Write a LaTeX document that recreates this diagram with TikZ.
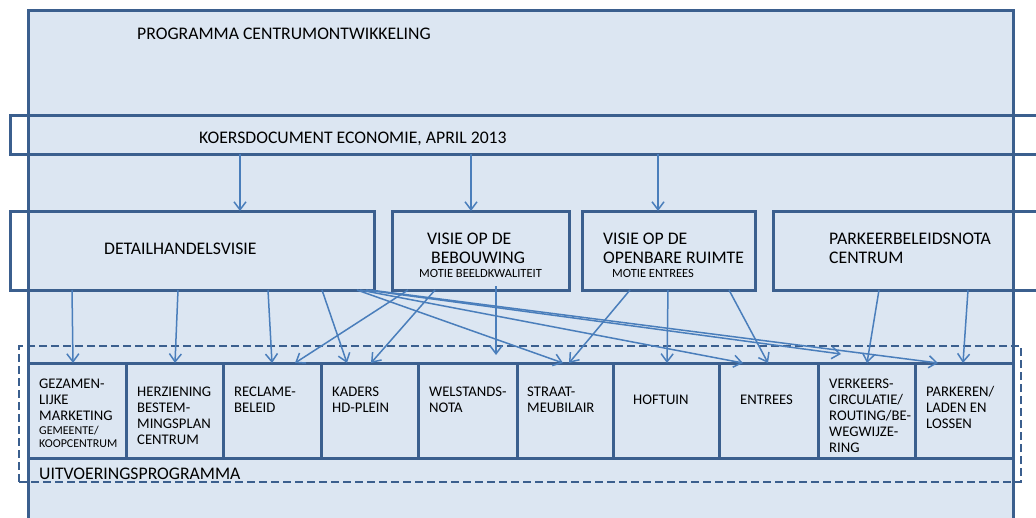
\documentclass[tikz,border=0pt]{standalone}
\usepackage{fontspec}
\setmainfont{Carlito}
\usetikzlibrary{arrows.meta,calc}
\definecolor{boxfill}{HTML}{DCE6F2}
\definecolor{boxline}{HTML}{3B5F8E}
\definecolor{arrline}{HTML}{4A7EBB}
\tikzset{
  frame/.style={draw=boxline, line width=3pt, inner sep=0pt, outer sep=0pt},
  box/.style={draw=boxline, line width=3pt, inner sep=0pt, outer sep=0pt},
  dbox/.style={draw=boxline, line width=2.8pt, dash pattern=on 8pt off 4pt, inner sep=0pt, outer sep=0pt},
  arr/.style={draw=arrline, line width=1.5pt, -{Straight Barb[length=8pt,width=12pt,line width=1.5pt]}},
  big/.style={inner sep=0pt, anchor=base west, font=\fontsize{17.7}{19.5}\selectfont},
  mid/.style={inner sep=0pt, anchor=base west, font=\fontsize{14.7}{16}\selectfont},
  tiny/.style={inner sep=0pt, anchor=base west, font=\fontsize{12.5}{13}\selectfont},
}
\newcommand{\lines}[1]{\begin{tabular}[t]{@{}l@{}}#1\end{tabular}}
\begin{document}
\begin{tikzpicture}[x=1pt,y=-1pt]
\useasboundingbox (0,0) rectangle (1036,517);
\clip (0,0) rectangle (1036,517);
% outer frame
\node[frame, fill=boxfill, minimum width=985pt, minimum height=530pt] (outer) at (520.5,275) {};
% koersdocument band
\node[box, minimum width=1040pt, minimum height=39pt] (koers) at (530,134.5) {};
% middle row
\node[box, minimum width=364pt, minimum height=79pt] (detail) at (192,250.5) {};
\node[box, minimum width=177pt, minimum height=79pt] (bebouw) at (480.5,250.5) {};
\node[box, minimum width=173pt, minimum height=79pt] (openb) at (668.5,250.5) {};
\node[box, minimum width=280pt, minimum height=79pt] (parkeer) at (913,250.5) {};
% uitvoeringsprogramma dashed
\node[dbox, minimum width=1002pt, minimum height=136pt] (uitv) at (520,414) {};
% bottom boxes
\node[box, minimum width=98pt, minimum height=95pt] (b1) at (77,410.5) {};
\node[box, minimum width=97pt, minimum height=95pt] (b2) at (174.5,410.5) {};
\node[box, minimum width=98pt, minimum height=95pt] (b3) at (272,410.5) {};
\node[box, minimum width=97pt, minimum height=95pt] (b4) at (369.5,410.5) {};
\node[box, minimum width=99pt, minimum height=95pt] (b5) at (467.5,410.5) {};
\node[box, minimum width=96pt, minimum height=95pt] (b6) at (565,410.5) {};
\node[box, minimum width=106pt, minimum height=95pt] (b7) at (666,410.5) {};
\node[box, minimum width=99pt, minimum height=95pt] (b8) at (768.5,410.5) {};
\node[box, minimum width=97pt, minimum height=95pt] (b9) at (866.5,410.5) {};
\node[box, minimum width=98pt, minimum height=95pt] (b10) at (964,410.5) {};
% texts
\node[big] (tprog) at (137,39.5) {PROGRAMMA CENTRUMONTWIKKELING};
\node[big] (tkoers) at (199,143.5) {KOERSDOCUMENT ECONOMIE, APRIL 2013};
\node[big] (tdetail) at (104,254) {DETAILHANDELSVISIE};
\node[big] (tbeb) at (427,244.3) {\lines{VISIE OP DE\\\hspace*{4pt}BEBOUWING}};
\node[tiny] (tbebm) at (419,277.7) {MOTIE BEELDKWALITEIT};
\node[big] (topen) at (603,244.3) {\lines{VISIE OP DE\\OPENBARE RUIMTE}};
\node[tiny] (topenm) at (612,277.7) {MOTIE ENTREES};
\node[big] (tpark) at (829,244.3) {\lines{PARKEERBELEIDSNOTA\\CENTRUM}};
\node[mid] (tb1) at (39,388.3) {\lines{GEZAMEN-\\LIJKE\\MARKETING\\[-2pt]{\fontsize{12}{12.4}\selectfont GEMEENTE/}\\[-3pt]{\fontsize{12}{12.4}\selectfont KOOPCENTRUM}}};
\node[mid] (tb2) at (137,396.3) {\lines{HERZIENING\\BESTEM-\\MINGSPLAN\\CENTRUM}};
\node[mid] (tb3) at (234,396.3) {\lines{RECLAME-\\BELEID}};
\node[mid] (tb4) at (332,396.3) {\lines{KADERS\\HD-PLEIN}};
\node[mid] (tb5) at (429,396.3) {\lines{WELSTANDS-\\NOTA}};
\node[mid] (tb6) at (527,396.3) {\lines{STRAAT-\\MEUBILAIR}};
\node[mid] (tb7) at (633,404) {HOFTUIN};
\node[mid] (tb8) at (740,404) {ENTREES};
\node[mid] (tb9) at (829,388.3) {\lines{VERKEERS-\\CIRCULATIE/\\ROUTING/BE-\\WEGWIJZE-\\RING}};
\node[mid] (tb10) at (926,396.3) {\lines{PARKEREN/\\LADEN EN\\LOSSEN}};
\node[big] (tuitv) at (39,479) {UITVOERINGSPROGRAMMA};
% arrows from koersdocument
\draw[arr] ([xshift=230pt]koers.south west) -- ([xshift=230pt]detail.north west);
\draw[arr] ([xshift=461pt]koers.south west) -- ([xshift=79pt]bebouw.north west);
\draw[arr] ([xshift=648pt]koers.south west) -- ([xshift=76pt]openb.north west);
% arrows from detailhandelsvisie
\draw[arr] ([xshift=62pt]detail.south west) -- ([xshift=45pt]b1.north west);
\draw[arr] ([xshift=168pt]detail.south west) -- ([xshift=49pt]b2.north west);
\draw[arr] ([xshift=258pt]detail.south west) -- ([xshift=49pt]b3.north west);
\draw[arr] ([xshift=312pt]detail.south west) -- ([xshift=26pt]b4.north west);
\draw[arr] ([xshift=347pt]detail.south west) -- ([xshift=46pt]b6.north west);
\draw[arr] ([xshift=350pt]detail.south west) -- ([xshift=24pt]b8.north west);
\draw[arr] ([xshift=356pt]detail.south west) -- ([xshift=23pt,yshift=9pt]b9.north west);
\draw[arr] ([xshift=360pt]detail.south west) -- ([xshift=23pt]b10.north west);
% arrows from visie op de bebouwing
\draw[arr] ([xshift=16pt]bebouw.south west) -- ([xshift=72pt]b3.north west);
\draw[arr] ([xshift=43pt]bebouw.south west) -- ([xshift=50pt]b4.north west);
\draw[arr] ([xshift=104pt,yshift=4pt]bebouw.south west) -- ([xshift=78pt,yshift=8pt]b5.north west);
% arrows from visie op de openbare ruimte
\draw[arr] ([xshift=48pt]openb.south west) -- ([xshift=52pt]b6.north west);
\draw[arr] ([xshift=86pt]openb.south west) -- ([xshift=54pt]b7.north west);
\draw[arr] ([xshift=147pt]openb.south west) -- ([xshift=49pt]b8.north west);
% arrows from parkeerbeleidsnota
\draw[arr] ([xshift=106pt]parkeer.south west) -- ([xshift=49pt]b9.north west);
\draw[arr] ([xshift=195pt]parkeer.south west) -- ([xshift=48pt]b10.north west);
\end{tikzpicture}
\end{document}
